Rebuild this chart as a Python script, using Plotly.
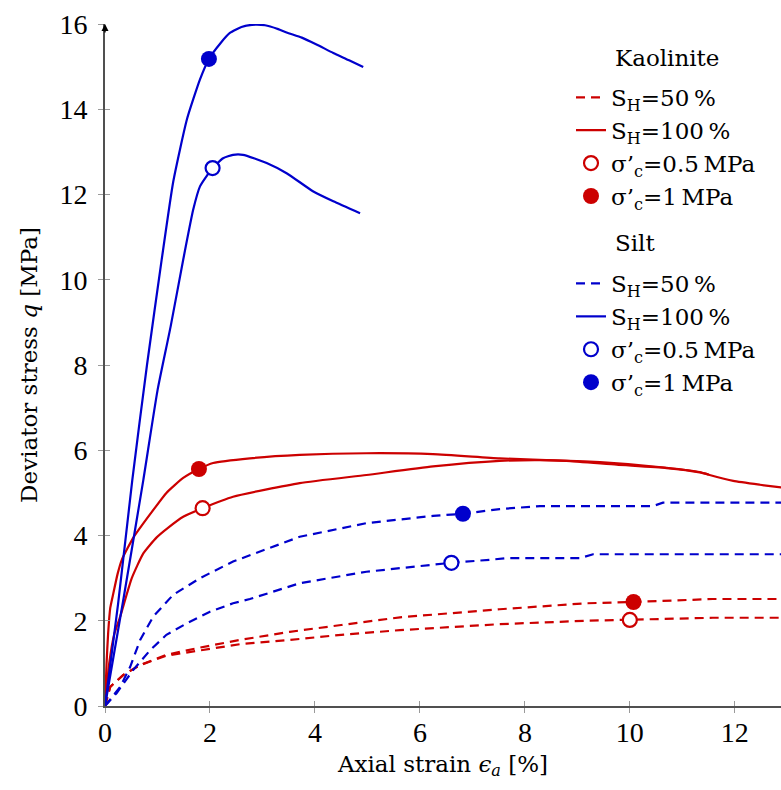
import plotly.graph_objects as go

RED = "#CC0000"
BLUE = "#0000CC"

# Kaolinite, S_H = 100 %
kao100_s1_x = [0, 0.03, 0.06, 0.1, 0.16, 0.24, 0.32, 0.54, 0.86, 1.17, 1.49, 1.79, 2.06, 2.76, 3.71, 4.98, 6.25, 7.52, 8.79, 9.75, 10.7, 11.33, 11.5]
kao100_s1_y = [0, 1.0, 1.71, 2.3, 2.65, 3.1, 3.43, 3.95, 4.5, 5.0, 5.35, 5.56, 5.70, 5.81, 5.89, 5.93, 5.91, 5.81, 5.75, 5.66, 5.58, 5.48, 5.43]
kao100_s05_x = [0, 0.08, 0.18, 0.29, 0.51, 0.73, 0.98, 1.2, 1.49, 1.86, 2.44, 3.71, 4.98, 6.25, 7.52, 8.3, 9.43, 10.7, 11.33, 11.52, 11.97, 12.48, 12.88, 13.2]
kao100_s05_y = [0, 1.0, 1.7, 2.1, 3.0, 3.58, 3.95, 4.18, 4.44, 4.64, 4.91, 5.23, 5.42, 5.62, 5.75, 5.77, 5.72, 5.59, 5.49, 5.42, 5.28, 5.19, 5.13, 5.08]

# Kaolinite, S_H = 50 %
kao50_s1_x = [0, 0.1, 0.35, 0.67, 1.17, 1.81, 2.57, 3.52, 4.5, 5.62, 7.52, 9.17, 10.07, 10.44, 11.58, 13.2]
kao50_s1_y = [0, 0.45, 0.73, 0.96, 1.2, 1.37, 1.55, 1.74, 1.9, 2.08, 2.27, 2.41, 2.44, 2.46, 2.51, 2.51]
kao50_s05_x = [0, 0.1, 0.35, 0.67, 1.17, 1.81, 2.57, 3.52, 4.5, 5.62, 7.52, 9.17, 10.0, 10.44, 11.58, 13.2]
kao50_s05_y = [0, 0.45, 0.73, 0.96, 1.18, 1.31, 1.45, 1.55, 1.67, 1.78, 1.92, 2.0, 2.02, 2.03, 2.07, 2.07]

# Silt, S_H = 100 %
silt100_s1_x = [0, 0.25, 0.52, 0.8, 1.08, 1.3, 1.56, 1.81, 1.98, 2.2, 2.38, 2.6, 2.8, 3.05, 3.3, 3.46, 3.75, 4.03, 4.35, 4.65, 4.92]
silt100_s1_y = [0, 2.4, 5.3, 8.0, 10.47, 12.3, 13.76, 14.7, 15.18, 15.55, 15.79, 15.93, 15.98, 15.97, 15.88, 15.8, 15.68, 15.52, 15.32, 15.15, 14.99]
silt100_s05_x = [0, 0.35, 0.73, 1.0, 1.25, 1.49, 1.68, 1.81, 2.05, 2.25, 2.44, 2.63, 3.08, 3.46, 3.97, 4.35, 4.86]
silt100_s05_y = [0, 2.5, 5.3, 7.4, 8.9, 10.47, 11.64, 12.19, 12.62, 12.85, 12.93, 12.93, 12.74, 12.5, 12.07, 11.84, 11.56]

# Silt, S_H = 50 %
silt50_s1_x = [0, 0.29, 0.48, 0.67, 0.92, 1.3, 1.81, 2.44, 3.71, 4.98, 6.25, 6.82, 7.52, 8.29, 10.44, 10.63, 13.2]
silt50_s1_y = [0, 0.45, 0.92, 1.55, 2.1, 2.61, 3.0, 3.39, 3.97, 4.29, 4.46, 4.51, 4.62, 4.69, 4.69, 4.77, 4.77]
silt50_s05_x = [0, 0.22, 0.54, 0.86, 1.17, 1.56, 2.0, 2.44, 2.76, 3.71, 4.98, 6.25, 6.6, 7.33, 7.65, 9.05, 9.3, 13.2]
silt50_s05_y = [0, 0.3, 0.85, 1.31, 1.67, 1.94, 2.21, 2.41, 2.51, 2.88, 3.15, 3.31, 3.36, 3.43, 3.47, 3.47, 3.56, 3.56]

# Marker points (sigma'_c)
kao_open_x = [1.86, 10.0]
kao_open_y = [4.64, 2.02]
kao_fill_x = [1.79, 10.07]
kao_fill_y = [5.56, 2.44]
silt_open_x = [2.05, 6.6]
silt_open_y = [12.62, 3.36]
silt_fill_x = [1.98, 6.82]
silt_fill_y = [15.18, 4.51]

x_ticks = [0, 2, 4, 6, 8, 10, 12]
y_ticks = [0, 2, 4, 6, 8, 10, 12, 14, 16]

TICKFONT = "Liberation Serif"
TEXTFONT = "DejaVu Serif"
DASH = "9px,6px"
LW = 2.2

fig = go.Figure()

def line(x, y, color, dash, shape="linear"):
    fig.add_trace(go.Scatter(x=x, y=y, mode="lines", showlegend=False, hoverinfo="skip",
                             line=dict(color=color, width=LW, dash=dash, shape=shape,
                                       smoothing=0.5 if shape == "spline" else None)))

line(kao50_s1_x, kao50_s1_y, RED, DASH)
line(kao50_s05_x, kao50_s05_y, RED, DASH)
line(silt50_s1_x, silt50_s1_y, BLUE, DASH)
line(silt50_s05_x, silt50_s05_y, BLUE, DASH)
line(kao100_s1_x, kao100_s1_y, RED, "solid", "spline")
line(kao100_s05_x, kao100_s05_y, RED, "solid", "spline")
line(silt100_s1_x, silt100_s1_y, BLUE, "solid", "spline")
line(silt100_s05_x, silt100_s05_y, BLUE, "solid", "spline")

def pts(x, y, color, filled):
    fig.add_trace(go.Scatter(x=x, y=y, mode="markers", showlegend=False, hoverinfo="skip",
                             marker=dict(size=16 if filled else 14, color=color if filled else "white",
                                         symbol="circle",
                                         line=dict(color=color, width=0 if filled else 2.2))))

pts(kao_open_x, kao_open_y, RED, False)
pts(kao_fill_x, kao_fill_y, RED, True)
pts(silt_open_x, silt_open_y, BLUE, False)
pts(silt_fill_x, silt_fill_y, BLUE, True)

SH50 = "S<sub>H</sub>=50\u2009%"
SH100 = "S<sub>H</sub>=100\u2009%"
SC05 = "σ’<sub>c</sub>=0.5\u2009MPa"
SC1 = "σ’<sub>c</sub>=1\u2009MPa"

for leg, color in (("legend", RED), ("legend2", BLUE)):
    fig.add_trace(go.Scatter(x=[None], y=[None], mode="lines", name=SH50, legend=leg,
                             line=dict(color=color, width=LW, dash=DASH)))
    fig.add_trace(go.Scatter(x=[None], y=[None], mode="lines", name=SH100, legend=leg,
                             line=dict(color=color, width=LW)))
    fig.add_trace(go.Scatter(x=[None], y=[None], mode="markers", name=SC05, legend=leg,
                             marker=dict(size=14, color="white", line=dict(color=color, width=2.2))))
    fig.add_trace(go.Scatter(x=[None], y=[None], mode="markers", name=SC1, legend=leg,
                             marker=dict(size=16, color=color, line=dict(width=0))))

# dummy trace for crossing tick marks (inside part)
fig.add_trace(go.Scatter(x=[None], y=[None], xaxis="x2", yaxis="y2", showlegend=False))

XR = [0, 12.88]
YR = [0, 16]
AXC = "#505050"
TKC = "#9a9a9a"
PW = 676.0  # plot-area width in px
PH = 682.0

fig.update_layout(
    width=781, height=790,
    margin=dict(l=105, r=0, t=24, b=84),
    paper_bgcolor="white", plot_bgcolor="white",
    font=dict(family=TEXTFONT, size=23, color="black"),
    xaxis=dict(range=XR, tickvals=x_ticks, ticks="outside", ticklen=5, tickwidth=1.2, tickcolor=TKC,
               showline=True, linecolor=AXC, linewidth=1.6, showgrid=False, zeroline=False,
               automargin=False,
               tickfont=dict(size=28, family=TICKFONT), ticklabelstandoff=-4,
               title=dict(text="Axial strain <i>ϵ<sub>a</sub></i> [%]", font=dict(size=23, family=TEXTFONT), standoff=8)),
    yaxis=dict(range=YR, tickvals=y_ticks, ticks="outside", ticklen=5, tickwidth=1.2, tickcolor=TKC,
               showline=True, linecolor=AXC, linewidth=1.6, showgrid=False, zeroline=False,
               automargin=False,
               tickfont=dict(size=28, family=TICKFONT), ticklabelstandoff=5,
               title=dict(text="Deviator stress <i>q</i> [MPa]", font=dict(size=23, family=TEXTFONT), standoff=16)),
    xaxis2=dict(range=XR, overlaying="x", tickvals=x_ticks, ticks="inside", ticklen=5, tickwidth=1.2,
                tickcolor=TKC, showticklabels=False, showgrid=False, zeroline=False, showline=False,
                automargin=False),
    yaxis2=dict(range=YR, overlaying="y", tickvals=y_ticks, ticks="inside", ticklen=5, tickwidth=1.2,
                tickcolor=TKC, showticklabels=False, showgrid=False, zeroline=False, showline=False,
                automargin=False),
    legend=dict(x=(571 - 105) / PW, y=0.924, xanchor="left", yanchor="top", bgcolor="rgba(0,0,0,0)",
                font=dict(size=23, family=TEXTFONT), tracegroupgap=0),
    legend2=dict(x=(571 - 105) / PW, y=0.651, xanchor="left", yanchor="top", bgcolor="rgba(0,0,0,0)",
                 font=dict(size=23, family=TEXTFONT), tracegroupgap=0),
    showlegend=True,
)

# legend group titles
for txt, ypx in (("Kaolinite", 58), ("Silt", 243)):
    fig.add_annotation(x=(613 - 105) / PW, y=1 - (ypx - 24) / PH, xref="paper", yref="paper",
                       text=txt, showarrow=False, xanchor="left", yanchor="middle",
                       font=dict(size=23, family=TEXTFONT))

# arrow head at top of y axis
fig.add_annotation(x=0, y=16, xref="x", yref="y", text="", showarrow=True, ax=0, ay=10,
                   arrowhead=2, arrowsize=1, arrowwidth=1.4, arrowcolor="black")

fig.write_html("out.html", config={"displayModeBar": False},
               post_script="document.body.style.margin='0';document.body.style.overflow='hidden';")
